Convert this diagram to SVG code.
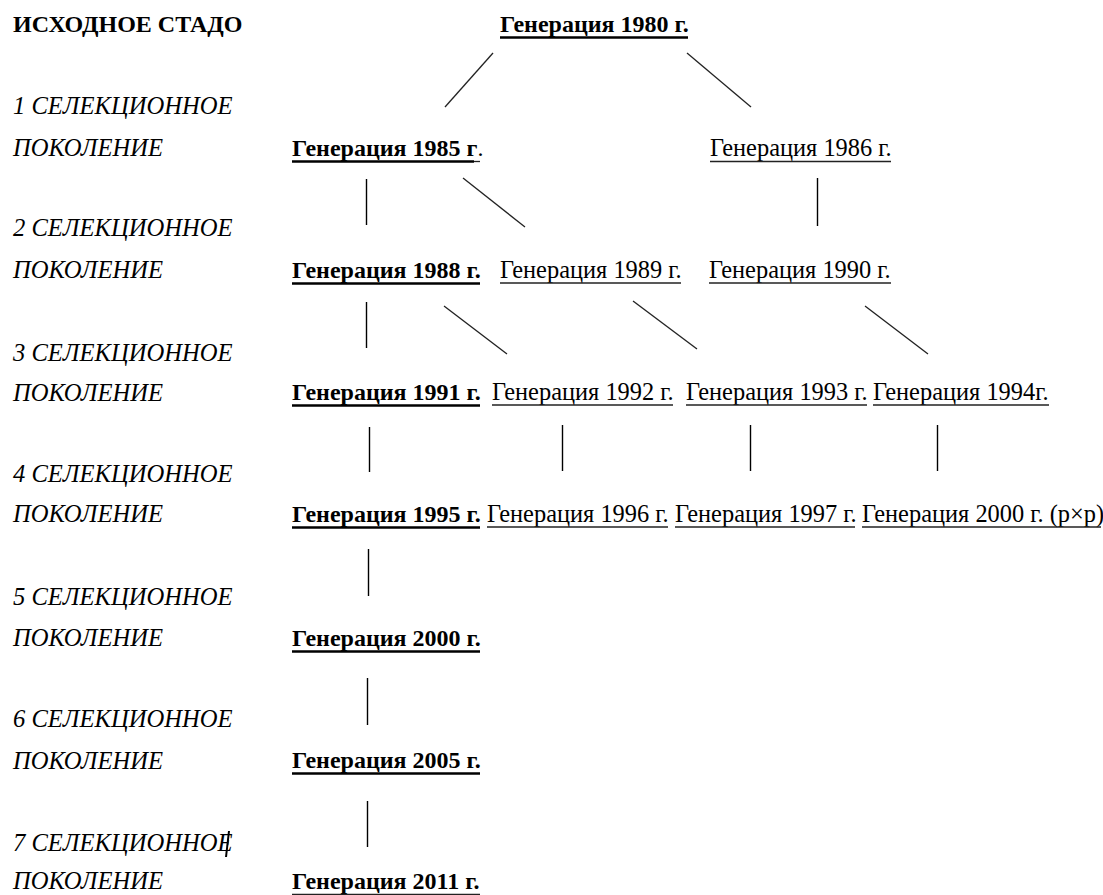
<svg xmlns="http://www.w3.org/2000/svg" width="1103" height="895" viewBox="0 0 1103 895">
<style>
text{font-family:"Liberation Serif","Times New Roman",serif;font-size:24.4px;fill:#000}
.lab{font-style:italic;font-size:24.6px}
.b{font-weight:bold;font-size:24px}
.ub{stroke:#000;stroke-width:2.6}
.ur{stroke:#222;stroke-width:1.3}
.c{stroke:#222;stroke-width:1.3;fill:none}
.v{stroke:#000;stroke-width:1.4}
</style>
<rect width="1103" height="895" fill="#fff"/>
<g id="labels">
<text x="13" y="32" class="b">ИСХОДНОЕ СТАДО</text>
<text x="13" y="114" class="lab">1 СЕЛЕКЦИОННОЕ</text>
<text x="13" y="156" class="lab">ПОКОЛЕНИЕ</text>
<text x="13" y="236" class="lab">2 СЕЛЕКЦИОННОЕ</text>
<text x="13" y="278" class="lab">ПОКОЛЕНИЕ</text>
<text x="13" y="361" class="lab">3 СЕЛЕКЦИОННОЕ</text>
<text x="13" y="401" class="lab">ПОКОЛЕНИЕ</text>
<text x="13" y="482" class="lab">4 СЕЛЕКЦИОННОЕ</text>
<text x="13" y="522" class="lab">ПОКОЛЕНИЕ</text>
<text x="13" y="605" class="lab">5 СЕЛЕКЦИОННОЕ</text>
<text x="13" y="646" class="lab">ПОКОЛЕНИЕ</text>
<text x="13" y="727" class="lab">6 СЕЛЕКЦИОННОЕ</text>
<text x="13" y="769" class="lab">ПОКОЛЕНИЕ</text>
<text x="13" y="851" class="lab">7 СЕЛЕКЦИОННОЕ</text>
<line x1="229" y1="831" x2="226" y2="857" stroke="#000" stroke-width="2"/>
<text x="13" y="889" class="lab">ПОКОЛЕНИЕ</text>
</g>
<g id="g1980"><text x="500" y="32" class="b">Генерация 1980 г.</text><line class="ub" x1="500" y1="37.5" x2="688" y2="37.5"/></g>
<g id="g1985"><text x="292" y="156" class="b">Генерация 1985 г<tspan font-weight="normal">.</tspan></text><line class="ub" x1="292" y1="161.5" x2="474" y2="161.5"/><line class="ur" x1="474" y1="161.5" x2="480" y2="161.5"/></g>
<g id="g1986"><text x="710" y="156">Генерация 1986 г.</text><line class="ur" x1="710" y1="161.5" x2="891" y2="161.5"/></g>
<g id="g1988"><text x="292" y="278" class="b">Генерация 1988 г.</text><line class="ub" x1="292" y1="283.5" x2="480" y2="283.5"/></g>
<g id="g1989"><text x="500" y="278">Генерация 1989 г.</text><line class="ur" x1="500" y1="283" x2="681" y2="283"/></g>
<g id="g1990"><text x="709" y="278">Генерация 1990 г.</text><line class="ur" x1="709" y1="283" x2="891" y2="283"/></g>
<g id="g1991"><text x="292" y="400" class="b">Генерация 1991 г.</text><line class="ub" x1="292" y1="405.5" x2="480" y2="405.5"/></g>
<g id="g1992"><text x="492" y="400">Генерация 1992 г.</text><line class="ur" x1="492" y1="405" x2="673" y2="405"/></g>
<g id="g1993"><text x="686" y="400">Генерация 1993 г.</text><line class="ur" x1="686" y1="405" x2="867" y2="405"/></g>
<g id="g1994"><text x="873" y="400">Генерация 1994г.</text><line class="ur" x1="873" y1="405" x2="1049" y2="405"/></g>
<g id="g1995"><text x="292" y="522" class="b">Генерация 1995 г.</text><line class="ub" x1="292" y1="527.5" x2="480" y2="527.5"/></g>
<g id="g1996"><text x="487" y="522">Генерация 1996 г.</text><line class="ur" x1="487" y1="527" x2="668" y2="527"/></g>
<g id="g1997"><text x="675" y="522">Генерация 1997 г.</text><line class="ur" x1="675" y1="527" x2="855" y2="527"/></g>
<g id="g2000px"><text x="862" y="522">Генерация 2000 г. (р×р)</text><line class="ur" x1="862" y1="527" x2="1101" y2="527"/></g>
<g id="g2000"><text x="292" y="646" class="b">Генерация 2000 г.</text><line class="ub" x1="292" y1="651.5" x2="480" y2="651.5"/></g>
<g id="g2005"><text x="292" y="768" class="b">Генерация 2005 г.</text><line class="ub" x1="292" y1="773.5" x2="480" y2="773.5"/></g>
<g id="g2011"><text x="292" y="889" class="b">Генерация 2011 г.</text><line class="ur" x1="292" y1="894.5" x2="480" y2="894.5" stroke="#999"/></g>
<g id="connectors">
<line class="c" x1="493" y1="53" x2="445" y2="107"/>
<line class="c" x1="687" y1="53" x2="751" y2="107"/>
<line class="v" x1="366.5" y1="179" x2="366.5" y2="225"/>
<line class="c" x1="463" y1="178" x2="525" y2="227"/>
<line class="v" x1="817.5" y1="178" x2="817.5" y2="226"/>
<line class="v" x1="366.5" y1="302" x2="366.5" y2="348"/>
<line class="c" x1="444" y1="306" x2="507" y2="354"/>
<line class="c" x1="633" y1="301" x2="697" y2="349"/>
<line class="c" x1="865" y1="306" x2="928" y2="354"/>
<line class="v" x1="369.5" y1="427" x2="369.5" y2="472"/>
<line class="v" x1="562.5" y1="425" x2="562.5" y2="471"/>
<line class="v" x1="750.5" y1="425" x2="750.5" y2="471"/>
<line class="v" x1="937.5" y1="425" x2="937.5" y2="471"/>
<line class="v" x1="368.5" y1="549" x2="368.5" y2="596"/>
<line class="v" x1="367.5" y1="678" x2="367.5" y2="725"/>
<line class="v" x1="367.5" y1="801" x2="367.5" y2="847"/>
</g>
</svg>
